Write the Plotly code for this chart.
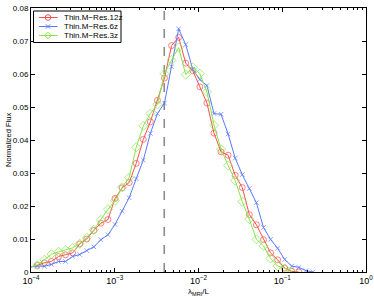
import plotly.graph_objects as go

# lambda_MRI / L sample positions (log-spaced bins)
lam = [9.79e-5, 1.189e-4, 1.443e-4, 1.752e-4, 2.129e-4, 2.586e-4, 3.141e-4, 3.815e-4,
       4.633e-4, 5.626e-4, 6.833e-4, 8.298e-4, 1.0078e-3, 1.224e-3, 1.4866e-3, 1.805e-3,
       2.193e-3, 2.663e-3, 3.234e-3, 3.928e-3, 4.771e-3, 5.794e-3, 7.037e-3, 8.546e-3,
       1.038e-2, 1.2606e-2, 1.531e-2, 1.859e-2, 2.258e-2, 2.742e-2, 3.331e-2, 4.046e-2,
       4.913e-2, 5.967e-2, 7.247e-2, 8.801e-2, 1.0691e-1, 1.2984e-1, 1.5769e-1, 1.9152e-1,
       2.326e-1]

res12 = [0.0015, 0.0020, 0.0028, 0.0032, 0.0047, 0.0052, 0.0058, 0.0085, 0.0100, 0.0126,
         0.0148, 0.0159, 0.0223, 0.0255, 0.0271, 0.0329, 0.0402, 0.0455, 0.0520, 0.0588,
         0.0686, 0.0711, 0.0633, 0.0610, 0.0561, 0.0512, 0.0421, 0.0364, 0.0354, 0.0293,
         0.0256, 0.0174, 0.0143, 0.0098, 0.0058, 0.0037, 0.0012, 0.0002, 0.0]

res6 = [0.0015, 0.0018, 0.0017, 0.0023, 0.0032, 0.0032, 0.0047, 0.0053, 0.0065, 0.0076,
        0.0098, 0.0113, 0.0144, 0.0184, 0.0225, 0.0283, 0.0339, 0.0420, 0.0480, 0.0512,
        0.0622, 0.0737, 0.0689, 0.0614, 0.0583, 0.0565, 0.0480, 0.0478, 0.0418, 0.0345,
        0.0295, 0.0253, 0.0210, 0.0135, 0.0099, 0.0072, 0.0038, 0.0018, 0.0014, 0.0004, 0.0]

res3 = [0.0015, 0.0021, 0.0037, 0.0054, 0.0061, 0.0066, 0.0073, 0.0086, 0.0104, 0.0128,
        0.0158, 0.0190, 0.0216, 0.0257, 0.0286, 0.0378, 0.0443, 0.0480, 0.0508, 0.0601,
        0.0642, 0.0680, 0.0598, 0.0620, 0.0601, 0.0546, 0.0445, 0.0372, 0.0323, 0.0277,
        0.0213, 0.0160, 0.0099, 0.0079, 0.0041, 0.0018, 0.0011, 0.0]

names = ["Thin.M\u2212Res.12z", "Thin.M\u2212Res.6z", "Thin.M\u2212Res.3z"]
threshold_x = 0.0039
y_ticks = [0, 0.01, 0.02, 0.03, 0.04, 0.05, 0.06, 0.07, 0.08]
y_tick_labels = ["0", "0.01", "0.02", "0.03", "0.04", "0.05", "0.06", "0.07", "0.08"]
x_ticks = [1e-4, 1e-3, 1e-2, 1e-1, 1]
x_tick_labels = ["10<sup>\u22124</sup>", "10<sup>\u22123</sup>", "10<sup>\u22122</sup>",
                 "10<sup>\u22121</sup>", "10<sup>0</sup>"]
x_title = "\u03bb<sub>MRI</sub>/L"
y_title = "Normalized Flux"

FONT = "Liberation Sans, Arial, sans-serif"
W, H = 374, 298
ML, MR, MT, MB = 31, 8, 8, 26
PW, PH = W - ML - MR, H - MT - MB

series = [
    (res12, names[0], "#FF4D4D", "circle-open", 6),
    (res6, names[1], "#5A78FF", "x-thin-open", 4.5),
    (res3, names[2], "#86E64A", "diamond-open", 7),
]

fig = go.Figure()
for vals, name, color, sym, msize in series:
    n = len(vals)
    fig.add_trace(go.Scatter(
        x=lam[:n], y=vals, name=name, mode="lines+markers", showlegend=False,
        line=dict(color=color, width=1),
        marker=dict(symbol=sym, size=[0] + [msize] * (n - 1),
                    color=color, line=dict(color=color, width=1)),
        cliponaxis=True,
    ))

fig.add_shape(type="line", xref="x", yref="paper", x0=threshold_x, x1=threshold_x,
              y0=0, y1=1, line=dict(color="#8C8C8C", width=1.6, dash="dash"), layer="below")


def px_x(p):
    return (p - ML) / PW


def px_y(p):
    return (H - MB - p) / PH


# custom compact legend (MATLAB-like)
fig.add_shape(type="rect", xref="paper", yref="paper",
              x0=px_x(33.5), x1=px_x(121), y0=px_y(42.5), y1=px_y(11),
              line=dict(color="black", width=1), fillcolor="white", layer="above")
rows = [17.5, 26.5, 35.5]
for (vals, name, color, sym, msize), ry in zip(series, rows):
    yy = px_y(ry)
    fig.add_shape(type="line", xref="paper", yref="paper",
                  x0=px_x(39), x1=px_x(57.5), y0=yy, y1=yy,
                  line=dict(color=color, width=1), layer="above")
    cx = px_x(48)
    if sym.startswith("circle"):
        fig.add_shape(type="circle", xref="paper", yref="paper",
                      xsizemode="pixel", ysizemode="pixel", xanchor=cx, yanchor=yy,
                      x0=-2.8, x1=2.8, y0=-2.8, y1=2.8,
                      line=dict(color=color, width=1), fillcolor="rgba(0,0,0,0)", layer="above")
    elif sym.startswith("x"):
        fig.add_shape(type="path", xref="paper", yref="paper",
                      xsizemode="pixel", ysizemode="pixel", xanchor=cx, yanchor=yy,
                      path="M-2.2,-2.2 L2.2,2.2 M-2.2,2.2 L2.2,-2.2",
                      line=dict(color=color, width=1), layer="above")
    else:
        fig.add_shape(type="path", xref="paper", yref="paper",
                      xsizemode="pixel", ysizemode="pixel", xanchor=cx, yanchor=yy,
                      path="M0,-3.3 L3.3,0 L0,3.3 L-3.3,0 Z",
                      line=dict(color=color, width=1), fillcolor="rgba(0,0,0,0)", layer="above")
    fig.add_annotation(xref="paper", yref="paper", x=px_x(61.5), y=yy, text=name,
                       showarrow=False, xanchor="left", yanchor="middle",
                       font=dict(size=8, family=FONT, color="black"))

# axis titles
fig.add_annotation(xref="paper", yref="paper", x=0.5, y=px_y(284.5), text=x_title,
                   showarrow=False, xanchor="center", yanchor="top",
                   font=dict(size=8, family=FONT, color="black"))
fig.add_annotation(xref="paper", yref="paper", x=px_x(8), y=0.5, text=y_title,
                   showarrow=False, xanchor="center", yanchor="middle", textangle=-90,
                   font=dict(size=7.5, family=FONT, color="black"))

fig.update_layout(
    width=W, height=H,
    margin=dict(l=ML, r=MR, t=MT, b=MB, autoexpand=False),
    paper_bgcolor="white", plot_bgcolor="white",
    font=dict(family=FONT, size=8, color="black"),
    showlegend=False,
)

fig.update_xaxes(
    type="log", range=[-4, 0], tickvals=x_ticks, ticktext=x_tick_labels, automargin=False,
    showline=True, linecolor="black", linewidth=1, mirror="ticks",
    ticks="inside", ticklen=4, tickcolor="black", showgrid=False, zeroline=False,
    minor=dict(ticks="inside", ticklen=2, dtick="D1", tickcolor="black", showgrid=False),
    tickfont=dict(size=9, family=FONT),
)
fig.update_yaxes(
    range=[0, 0.08], tickvals=y_ticks, ticktext=y_tick_labels, automargin=False,
    showline=True, linecolor="black", linewidth=1, mirror="ticks",
    ticks="inside", ticklen=4, tickcolor="black", showgrid=False, zeroline=False,
    tickfont=dict(size=8, family=FONT),
)

fig.write_html(
    "out.html",
    config={"displayModeBar": False, "staticPlot": True},
    post_script="document.body.style.margin='0';document.body.style.padding='0';"
                "document.body.style.overflow='hidden';",
)
